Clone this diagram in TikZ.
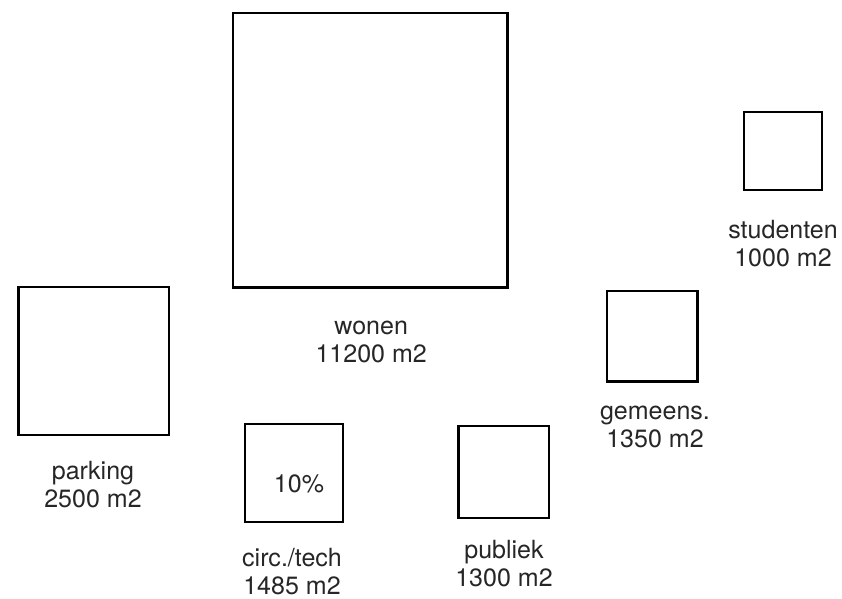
\documentclass[tikz,border=0pt]{standalone}
\usepackage{fontspec}
\setmainfont{TeX Gyre Heros}
\usepackage{xcolor}
\usepackage{tikz}
\usetikzlibrary{positioning,calc}

\begin{document}
\begin{tikzpicture}[
  zone/.style={draw, line width=1.8pt, inner sep=0pt},
  lbl/.style={font=\fontsize{17.8pt}{19.9pt}\selectfont, text=black!85, align=center, inner sep=0pt, anchor=south},
  pct/.style={font=\fontsize{17.8pt}{19.9pt}\selectfont, text=black!85, inner sep=0pt, anchor=base}
]

\useasboundingbox (0,0) rectangle (21.05,-14.95);

\node[zone, minimum width=6.86cm, minimum height=6.86cm] at (9.26, -3.76) (wonen) {};
\node[zone, minimum width=1.96cm, minimum height=1.96cm] at (19.575, -3.775) (studenten) {};
\node[zone, minimum width=3.76cm, minimum height=3.69cm] at (2.34, -9.025) (parking) {};
\node[zone, minimum width=2.26cm, minimum height=2.26cm] at (16.31, -8.41) (gemeens) {};
\node[zone, minimum width=2.44cm, minimum height=2.44cm] at (7.35, -11.825) (circ) {};
\node[zone, minimum width=2.26cm, minimum height=2.29cm] at (12.59, -11.8) (publiek) {};

\node[pct] at ([xshift=0.125cm, yshift=-0.475cm]circ.center) (circpct) {10\%};

\node[lbl] at (9.28, -9.075) (wonenlbl) {wonen\\11200 m2};
\node[lbl] at (19.575, -6.675) (studentenlbl) {studenten\\1000 m2};
\node[lbl] at (2.325, -12.7) (parkinglbl) {parking\\2500 m2};
\node[lbl] at (16.375, -11.2) (gemeenslbl) {gemeens.\\1350 m2};
\node[lbl] at (7.3, -14.875) (circlbl) {circ./tech\\1485 m2};
\node[lbl] at (12.6, -14.675) (publieklbl) {publiek\\1300 m2};

\end{tikzpicture}
\end{document}
